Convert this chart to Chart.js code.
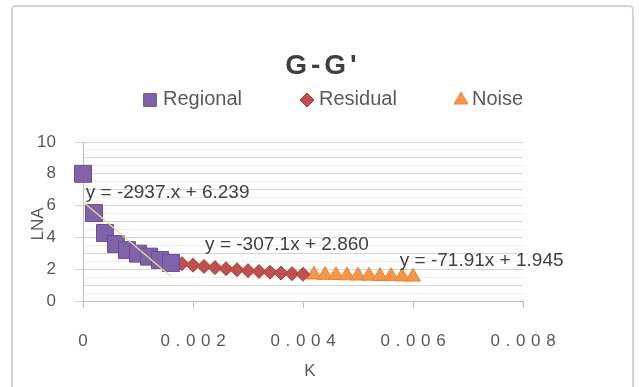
<!DOCTYPE html>
<html>
<head>
<meta charset="utf-8">
<script src="https://cdn.jsdelivr.net/npm/chart.js@4.4.1/dist/chart.umd.min.js"></script>
<style>
  html, body { margin: 0; padding: 0; background: #fff; }
  #wrap { position: relative; width: 639px; height: 387px; overflow: hidden; }
  #frame { position: absolute; left: 11px; top: 5px; width: 619px; height: 400px;
           border: 2px solid #d4d4d4; border-radius: 5px; pointer-events: none; }
  canvas { position: absolute; left: 0; top: 0; }
</style>
</head>
<body>
<div id="wrap">
  <canvas id="c" width="639" height="387"></canvas>
  <div id="frame"></div>
</div>
<script>
// 데이터
const regionalK = [0, 0.0002, 0.0004, 0.0006, 0.0008, 0.001, 0.0012, 0.0014, 0.0016];
const regionalLNA = [8.0, 5.53, 4.28, 3.58, 3.2, 2.98, 2.79, 2.58, 2.39];

const residualK = [0.0018, 0.002, 0.0022, 0.0024, 0.0026, 0.0028, 0.003, 0.0032, 0.0034, 0.0036, 0.0038, 0.004];
const residualLNA = [2.35, 2.25, 2.17, 2.10, 2.03, 1.97, 1.91, 1.86, 1.81, 1.76, 1.72, 1.68];

const noiseK = [0.0042, 0.0044, 0.0046, 0.0048, 0.005, 0.0052, 0.0054, 0.0056, 0.0058, 0.006];
const noiseLNA = [1.65, 1.63, 1.62, 1.60, 1.59, 1.58, 1.56, 1.55, 1.53, 1.52];

// 추세선 양 끝점
const trendRegionalK = [0, 0.0016];
const trendRegionalLNA = [6.239, 1.54];
const trendResidualK = [0.0018, 0.004];
const trendResidualLNA = [2.307, 1.632];
const trendNoiseK = [0.0042, 0.006];
const trendNoiseLNA = [1.643, 1.514];

// 추세선 식 라벨 (데이터 좌표 기준)
const eqTexts = ["y = -2937.x + 6.239", "y = -307.1x + 2.860", "y = -71.91x + 1.945"];
const eqK = [0.00005, 0.00222, 0.00576];
const eqLNA = [6.8, 3.52, 2.52];

const seriesNames = ["Regional", "Residual", "Noise"];
const xTicks = [0, 0.002, 0.004, 0.006, 0.008];
const yLabelTicks = [0, 2, 4, 6, 8, 10];

const colors = {
  regional: "#7f62a8",
  regionalBorder: "#6a4f94",
  residual: "#c0504d",
  residualBorder: "#a83f3c",
  noise: "#f79646",
  noiseBorder: "#e8832f",
  text: "#595959",
  title: "#404040",
};

const toPoints = (xs, ys) => xs.map((x, i) => ({ x: x, y: ys[i] }));
const FONT = "'Liberation Sans', Arial, sans-serif";

// 제목, 범례, 축 제목, 식 라벨 그리기
const decorPlugin = {
  id: "decor",
  afterDatasetsDraw(chart) {
    const ctx = chart.ctx;
    const xs = chart.scales.x;
    const ys = chart.scales.y;
    ctx.save();

    // 식 라벨
    ctx.fillStyle = colors.title;
    ctx.font = "19px " + FONT;
    ctx.textAlign = "left";
    ctx.textBaseline = "middle";
    eqTexts.forEach((t, i) => {
      ctx.fillText(t, xs.getPixelForValue(eqK[i]), ys.getPixelForValue(eqLNA[i]));
    });

    // 제목
    ctx.fillStyle = colors.title;
    ctx.font = "bold 28px " + FONT;
    ctx.textAlign = "center";
    ctx.letterSpacing = "4px";
    ctx.fillText("G-G'", 323, 66);
    ctx.letterSpacing = "0px";

    // 범례
    const legend = [
      { style: "rect", r: 9, fill: colors.regional, stroke: colors.regionalBorder, mx: 150, tx: 163 },
      { style: "rectRot", r: 7, fill: colors.residual, stroke: colors.residualBorder, mx: 307, tx: 319 },
      { style: "triangle", r: 8, fill: colors.noise, stroke: colors.noiseBorder, mx: 461, tx: 472 },
    ];
    ctx.font = "20px " + FONT;
    ctx.textAlign = "left";
    legend.forEach((l, i) => {
      ctx.fillStyle = l.fill;
      ctx.strokeStyle = l.stroke;
      ctx.lineWidth = 1;
      Chart.helpers.drawPoint(ctx, { pointStyle: l.style, radius: l.r, rotation: 0, borderWidth: 1 }, l.mx, 100);
      ctx.fillStyle = colors.text;
      ctx.fillText(seriesNames[i], l.tx, 99);
    });

    // 축 제목
    ctx.fillStyle = colors.text;
    ctx.font = "17px " + FONT;
    ctx.textAlign = "center";
    ctx.fillText("K", 310, 371);
    ctx.translate(38, 224);
    ctx.rotate(-Math.PI / 2);
    ctx.fillText("LNA", 0, 0);
    ctx.restore();
  },
};

new Chart(document.getElementById("c").getContext("2d"), {
  type: "scatter",
  data: {
    datasets: [
      {
        label: seriesNames[0],
        data: toPoints(regionalK, regionalLNA),
        pointStyle: "rect",
        pointRadius: 12,
        backgroundColor: colors.regional,
        borderColor: colors.regionalBorder,
        borderWidth: 1,
        clip: false,
        order: 5,
      },
      {
        label: seriesNames[1],
        data: toPoints(residualK, residualLNA),
        pointStyle: "rectRot",
        pointRadius: 7,
        backgroundColor: colors.residual,
        borderColor: colors.residualBorder,
        borderWidth: 1,
        clip: false,
        order: 5,
      },
      {
        label: seriesNames[2],
        data: toPoints(noiseK, noiseLNA),
        pointStyle: "triangle",
        pointRadius: 8.5,
        backgroundColor: colors.noise,
        borderColor: colors.noiseBorder,
        borderWidth: 1,
        clip: false,
        order: 5,
      },
      {
        type: "line",
        label: "trend1",
        data: toPoints(trendRegionalK, trendRegionalLNA),
        borderColor: "rgba(232, 222, 140, 0.9)",
        borderWidth: 1.5,
        pointRadius: 0,
        order: 1,
      },
      {
        type: "line",
        label: "trend2",
        data: toPoints(trendResidualK, trendResidualLNA),
        borderColor: "rgba(210, 120, 110, 0.6)",
        borderWidth: 1,
        pointRadius: 0,
        order: 6,
      },
      {
        type: "line",
        label: "trend3",
        data: toPoints(trendNoiseK, trendNoiseLNA),
        borderColor: "rgba(240, 170, 100, 0.6)",
        borderWidth: 1,
        pointRadius: 0,
        order: 6,
      },
    ],
  },
  options: {
    responsive: false,
    animation: false,
    layout: { padding: { left: 0, top: 142, right: 116, bottom: 0 } },
    plugins: {
      legend: { display: false },
      title: { display: false },
      tooltip: { enabled: false },
    },
    scales: {
      x: {
        type: "linear",
        min: 0,
        max: 0.008,
        afterFit: (scale) => { scale.height = 86; },
        afterBuildTicks: (scale) => { scale.ticks = xTicks.map((v) => ({ value: v })); },
        ticks: {
          color: colors.text,
          font: { family: FONT, size: 17 },
          padding: 23,
          maxRotation: 0,
          callback: (v) => (v === 0 ? "0" : v.toFixed(3).split("").join("\u2004")),
        },
        grid: {
          drawOnChartArea: false,
          drawTicks: true,
          tickLength: 7,
          color: "#bfbfbf",
        },
        border: { color: "#bfbfbf" },
      },
      y: {
        min: 0,
        max: 10,
        afterFit: (scale) => { scale.width = 83; },
        ticks: {
          stepSize: 0.5,
          autoSkip: false,
          color: colors.text,
          font: { family: FONT, size: 17 },
          padding: 19,
          callback: (v) => (yLabelTicks.includes(v) ? String(v) : ""),
        },
        grid: {
          drawTicks: true,
          tickLength: 8,
          color: (c) => (Number.isInteger(c.tick.value) ? "#d6d6d6" : "#ededed"),
          tickColor: (c) => (yLabelTicks.includes(c.tick.value) ? "#d0d0d0" : "rgba(0,0,0,0)"),
        },
        border: { color: "#bfbfbf" },
      },
    },
  },
  plugins: [decorPlugin],
});
</script>
</body>
</html>
